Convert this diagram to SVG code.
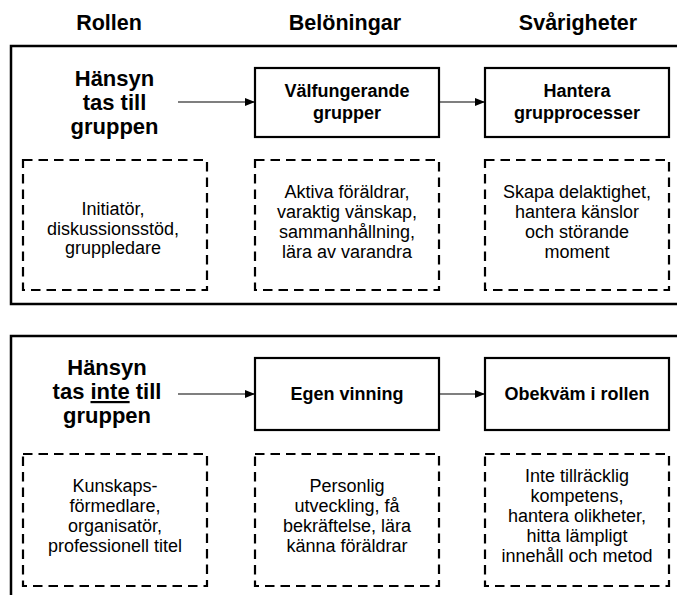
<svg xmlns="http://www.w3.org/2000/svg" width="677" height="595" viewBox="0 0 677 595">
<style>
text{font-family:"Liberation Sans",Arial,Helvetica,sans-serif;fill:#000;text-anchor:middle}
.hd{font-size:21.5px;font-weight:bold}
.big{font-size:22px;font-weight:bold}
.bx{font-size:18px;font-weight:bold}
.tx{font-size:18px}
.outer{fill:none;stroke:#000;stroke-width:2.5}
.solid{fill:#fff;stroke:#000;stroke-width:2.2}
.dash{fill:none;stroke:#000;stroke-width:2.2;stroke-dasharray:9.5 6}
.conn{stroke:#000;stroke-width:1.2;fill:none}
</style>
<defs>
<marker id="ah" viewBox="0 0 10 8" refX="10" refY="4" markerWidth="10" markerHeight="8" markerUnits="userSpaceOnUse" orient="auto">
<path d="M0,0 L10,4 L0,8 Z" fill="#000"/>
</marker>
</defs>
<rect width="677" height="595" fill="#fff"/>
<g id="headers">
<text class="hd" x="109" y="30">Rollen</text>
<text class="hd" x="345" y="30">Belöningar</text>
<text class="hd" x="578" y="30">Svårigheter</text>
</g>
<g id="panel-top">
<rect class="outer" x="11" y="46" width="700" height="258"/>
</g>
<g id="panel-bottom">
<rect class="outer" x="11" y="336" width="700" height="300"/>
</g>
<g id="connectors">
<line class="conn" x1="178" y1="102" x2="255" y2="102" marker-end="url(#ah)"/>
<line class="conn" x1="439" y1="102" x2="485" y2="102" marker-end="url(#ah)"/>
<line class="conn" x1="178" y1="394" x2="255" y2="394" marker-end="url(#ah)"/>
<line class="conn" x1="439" y1="394" x2="485" y2="394" marker-end="url(#ah)"/>
</g>
<g id="hansyn-top">
<text class="big" x="114.5" y="86">Hänsyn</text>
<text class="big" x="114.5" y="110">tas till</text>
<text class="big" x="114.5" y="134">gruppen</text>
</g>
<g id="valfungerande">
<rect class="solid" x="255" y="68" width="184" height="69"/>
<text class="bx" x="347" y="97">Välfungerande</text>
<text class="bx" x="347" y="119">grupper</text>
</g>
<g id="hantera">
<rect class="solid" x="485" y="68" width="184" height="69"/>
<text class="bx" x="577" y="97">Hantera</text>
<text class="bx" x="577" y="119">grupprocesser</text>
</g>
<g id="roll-top">
<rect class="dash" x="23" y="160" width="184" height="130"/>
<text class="tx" x="113" y="215">Initiatör,</text>
<text class="tx" x="113" y="235">diskussionsstöd,</text>
<text class="tx" x="113" y="254">gruppledare</text>
</g>
<g id="belon-top">
<rect class="dash" x="255" y="160" width="184" height="130"/>
<text class="tx" x="347" y="198">Aktiva föräldrar,</text>
<text class="tx" x="347" y="218">varaktig vänskap,</text>
<text class="tx" x="347" y="238">sammanhållning,</text>
<text class="tx" x="347" y="258">lära av varandra</text>
</g>
<g id="svar-top">
<rect class="dash" x="485" y="160" width="184" height="130"/>
<text class="tx" x="577" y="198">Skapa delaktighet,</text>
<text class="tx" x="577" y="218">hantera känslor</text>
<text class="tx" x="577" y="238">och störande</text>
<text class="tx" x="577" y="258">moment</text>
</g>
<g id="hansyn-bottom">
<text class="big" x="107" y="375">Hänsyn</text>
<text class="big" x="107" y="399">tas <tspan style="text-decoration:underline">inte</tspan> till</text>
<text class="big" x="107" y="423">gruppen</text>
</g>
<g id="egen-vinning">
<rect class="solid" x="255" y="358" width="184" height="72"/>
<text class="bx" x="347" y="400">Egen vinning</text>
</g>
<g id="obekvam">
<rect class="solid" x="485" y="358" width="184" height="72"/>
<text class="bx" x="577" y="400">Obekväm i rollen</text>
</g>
<g id="roll-bottom">
<rect class="dash" x="23" y="454" width="184" height="132"/>
<text class="tx" x="115" y="492">Kunskaps-</text>
<text class="tx" x="115" y="512">förmedlare,</text>
<text class="tx" x="115" y="532">organisatör,</text>
<text class="tx" x="115" y="552">professionell titel</text>
</g>
<g id="belon-bottom">
<rect class="dash" x="255" y="454" width="184" height="132"/>
<text class="tx" x="347" y="492">Personlig</text>
<text class="tx" x="347" y="512">utveckling, få</text>
<text class="tx" x="347" y="532">bekräftelse, lära</text>
<text class="tx" x="347" y="552">känna föräldrar</text>
</g>
<g id="svar-bottom">
<rect class="dash" x="485" y="454" width="184" height="132"/>
<text class="tx" x="577" y="482">Inte tillräcklig</text>
<text class="tx" x="577" y="502">kompetens,</text>
<text class="tx" x="577" y="522">hantera olikheter,</text>
<text class="tx" x="577" y="542">hitta lämpligt</text>
<text class="tx" x="577" y="562">innehåll och metod</text>
</g>
</svg>
